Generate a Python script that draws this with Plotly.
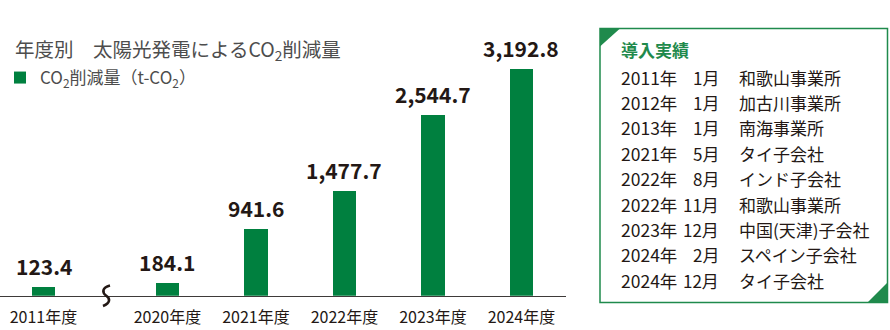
import plotly.graph_objects as go

# ---------------- data ----------------
fiscal_years = ["2011年度", "2020年度", "2021年度", "2022年度", "2023年度", "2024年度"]
co2_reduction = [123.4, 184.1, 941.6, 1477.7, 2544.7, 3192.8]

chart_title = "年度別　太陽光発電によるCO<sub>2</sub>削減量"
series_name = "CO<sub>2</sub>削減量（t-CO<sub>2</sub>）"

history_title = "導入実績"
history_years = ["2011年", "2012年", "2013年", "2021年", "2022年", "2022年", "2023年", "2024年", "2024年"]
history_months = ["1月", "1月", "1月", "5月", "8月", "11月", "12月", "2月", "12月"]
history_sites = ["和歌山事業所", "加古川事業所", "南海事業所", "タイ子会社", "インド子会社",
                 "和歌山事業所", "中国(天津)子会社", "スペイン子会社", "タイ子会社"]

# ---------------- layout helpers ----------------
W, H = 890, 330
FONT = "Noto Sans CJK JP"
GREEN = "#00803f"
BOX_GREEN = "#1f8a4c"
DARK = "#231815"
GRAY = "#4d4d4d"


def px(x):
    return x / W


def py(y):
    return 1 - y / H


# axis break between first and second category
x_pos = [0.0] + [1.4 + i for i in range(len(fiscal_years) - 1)]

fig = go.Figure()
fig.add_trace(go.Bar(
    x=x_pos, y=co2_reduction, width=0.266,
    marker=dict(color=GREEN, line=dict(width=0)),
    name=series_name, showlegend=True, hoverinfo="skip",
))

annotations = []
# value labels
for x, v in zip(x_pos, co2_reduction):
    annotations.append(dict(
        x=x, y=v, xref="x", yref="y", text=f"{v:,.1f}", showarrow=False,
        yanchor="bottom", yshift=4,
        font=dict(family=FONT, size=21, color=DARK, weight=700),
    ))

# chart title
annotations.append(dict(
    x=px(13), y=py(50), xref="paper", yref="paper", xanchor="left", yanchor="middle",
    text=chart_title, showarrow=False, font=dict(family=FONT, size=19.5, color=GRAY),
))

# history box
annotations.append(dict(
    x=px(619), y=py(50), xref="paper", yref="paper", xanchor="left", yanchor="middle",
    text=history_title, showarrow=False,
    font=dict(family=FONT, size=17, color=BOX_GREEN, weight=700),
))
row0, step = 77.0, 25.4
for i, (yr, mo, site) in enumerate(zip(history_years, history_months, history_sites)):
    yc = py(row0 + i * step)
    f = dict(family=FONT, size=17, color=DARK)
    annotations.append(dict(x=px(619), y=yc, xref="paper", yref="paper", xanchor="left",
                            yanchor="middle", text=yr, showarrow=False,
                            font=dict(family=FONT, size=17.5, color=DARK)))
    annotations.append(dict(x=px(721), y=yc, xref="paper", yref="paper", xanchor="right",
                            yanchor="middle", text=mo, showarrow=False, font=f))
    annotations.append(dict(x=px(737), y=yc, xref="paper", yref="paper", xanchor="left",
                            yanchor="middle", text=site, showarrow=False, font=f))


def path(points, close=False):
    s = "M " + " L ".join(f"{px(a):.5f},{py(b):.5f}" for a, b in points)
    return s + (" Z" if close else "")


bx0, by0, bx1, by1 = 600, 28.5, 887.5, 302.5
shapes = [
    dict(type="rect", xref="paper", yref="paper", x0=px(bx0), x1=px(bx1), y0=py(by1), y1=py(by0),
         line=dict(color=BOX_GREEN, width=1.5), fillcolor="rgba(0,0,0,0)"),
    dict(type="path", xref="paper", yref="paper",
         path=path([(bx0, by0), (bx0 + 20, by0), (bx0, by0 + 18)], close=True),
         fillcolor=BOX_GREEN, line=dict(width=0)),
    dict(type="path", xref="paper", yref="paper",
         path=path([(bx1, by1), (bx1 - 20, by1), (bx1, by1 - 20)], close=True),
         fillcolor=BOX_GREEN, line=dict(width=0)),
]

# axis break mark (S-curve)
c = lambda a, b: f"{px(a):.5f},{py(b):.5f}"
break_path = (f"M {c(110, 285.5)} C {c(102, 287.5)} {c(102, 292.5)} {c(106, 295.5)} "
              f"C {c(110.5, 298.5)} {c(110.5, 303)} {c(103, 306)}")
shapes.append(dict(type="path", xref="paper", yref="paper", path=break_path,
                   line=dict(color=DARK, width=2.6)))

fig.update_layout(
    width=W, height=H,
    margin=dict(l=0, r=0, t=0, b=0, autoexpand=False),
    paper_bgcolor="white", plot_bgcolor="white",
    bargap=0,
    xaxis=dict(
        domain=[0, px(566)], range=[-43.5 / 88.5, (566 - 43.5) / 88.5],
        tickmode="array", tickvals=x_pos, ticktext=fiscal_years,
        showline=True, linecolor="#3e3a39", linewidth=1.2,
        ticks="outside", ticklen=7, tickcolor="rgba(0,0,0,0)",
        showgrid=False, zeroline=False, fixedrange=True,
        tickfont=dict(family=FONT, size=16, color=DARK),
    ),
    yaxis=dict(
        domain=[py(295.8), py(30)], range=[0, 3747],
        visible=False, showgrid=False, zeroline=False, fixedrange=True,
    ),
    showlegend=True,
    legend=dict(
        x=px(0), y=py(60), xanchor="left", yanchor="top",
        bgcolor="rgba(0,0,0,0)", borderwidth=0,
        font=dict(family=FONT, size=17, color=GRAY),
        itemclick=False, itemdoubleclick=False,
    ),
    annotations=annotations,
    shapes=shapes,
)

fig.write_html("out.html")
